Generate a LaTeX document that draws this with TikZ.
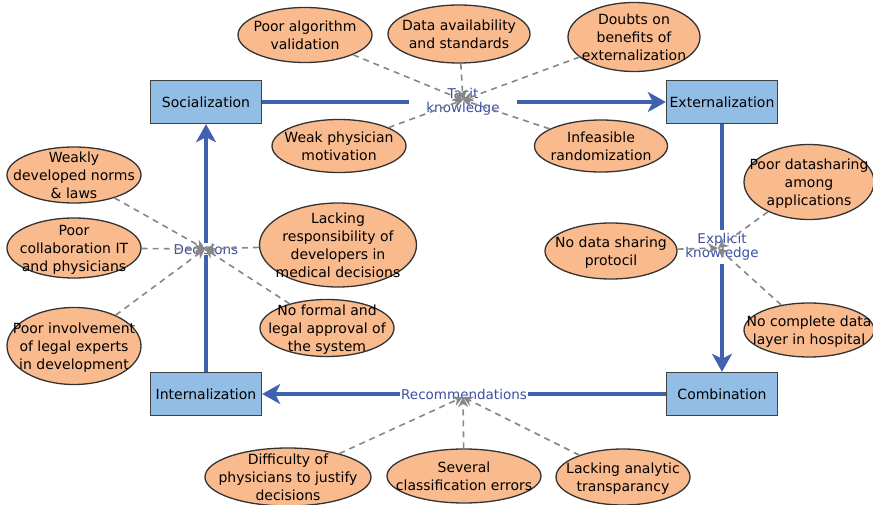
\documentclass[tikz,border=0pt]{standalone}
\usepackage{fontspec}
\setmainfont{DejaVu Sans}
\usetikzlibrary{shapes.geometric,arrows.meta}
\definecolor{peach}{RGB}{249,186,142}
\definecolor{boxblue}{RGB}{146,190,230}
\definecolor{flowblue}{RGB}{64,96,176}
\definecolor{lblblue}{RGB}{60,80,165}
\definecolor{dashgray}{RGB}{135,135,135}
\newcommand{\etext}[1]{\raisebox{-10.5pt}{\smash{\makebox[0pt]{\begin{tabular}{@{}c@{}}#1\end{tabular}}}}}
\tikzset{
  stage/.style={draw=black!75, line width=1.4pt, fill=boxblue, minimum width=111pt, minimum height=43pt, inner sep=0pt, font=\fontsize{14}{16}\selectfont},
  issue/.style={ellipse, draw=black!80, line width=1.3pt, fill=peach, inner sep=0pt, font=\fontsize{14}{18}\selectfont},
  flow/.style={draw=flowblue, line width=3.5pt, -{Stealth[length=18pt,width=20pt,inset=5pt]}},
  flowlbl/.style={fill=white, text=lblblue, align=center, inner sep=1pt, font=\fontsize{13.5}{16.5}\selectfont},
  feed/.style={draw=dashgray, line width=1.6pt, dash pattern=on 6pt off 5pt, -{Stealth[length=10pt,width=10pt]}}
}
\begin{document}
\begin{tikzpicture}[x=1pt,y=-1pt]
\useasboundingbox (0,0) rectangle (873,505);
% stages
\node[stage] (soc) at (206,102) {Socialization};
\node[stage] (ext) at (722,102) {Externalization};
\node[stage] (com) at (722,394) {Combination};
\node[stage] (int) at (206,394) {Internalization};
% hubs
\coordinate (htac) at (463,100);
\coordinate (hexp) at (718,248);
\coordinate (hrec) at (463,397);
\coordinate (hdec) at (205,249);
% main flows
\draw[flow] (soc.east) -- (ext.west);
\draw[flow] (ext.south) -- (com.north);
\draw[flow] (com.west) -- (int.east);
\draw[flow] (int.north) -- (soc.south);
% flow labels
\node[flowlbl, inner xsep=17pt] (ltac) at (463,102) {Tacit\\[-3pt]knowledge};
\node[flowlbl, inner ysep=4pt] (lexp) at (722,247) {Explicit\\[-3pt]knowledge};
\node[flowlbl] (lrec) at (464,394) {Recommendations};
\node[flowlbl] (ldec) at (206,249) {Decisions};
% issues - tacit
\node[issue, minimum width=134pt, minimum height=55pt] (pav) at (305,35) {\etext{Poor algorithm\\validation}};
\node[issue, minimum width=142pt, minimum height=58pt] (das) at (459,34) {\etext{Data availability\\and standards}};
\node[issue, minimum width=132pt, minimum height=69pt] (dob) at (634,37) {\etext{Doubts on\\benefits of\\externalization}};
\node[issue, minimum width=134pt, minimum height=53pt] (wpm) at (339,146) {\etext{Weak physician\\motivation}};
\node[issue, minimum width=133pt, minimum height=52pt] (inf) at (601,146) {\etext{Infeasible\\randomization}};
% issues - decisions
\node[issue, minimum width=134pt, minimum height=56pt] (wdn) at (74,175) {\etext{Weakly\\developed norms\\\& laws}};
\node[issue, minimum width=134pt, minimum height=60pt] (pci) at (74,248) {\etext{Poor\\collaboration IT\\and physicians}};
\node[issue, minimum width=134pt, minimum height=77pt] (pil) at (74,346) {\etext{Poor involvement\\of legal experts\\in development}};
\node[issue, minimum width=157pt, minimum height=84pt] (lrd) at (338,245) {\etext{Lacking\\responsibility of\\developers in\\medical decisions}};
\node[issue, minimum width=134pt, minimum height=57pt] (nfl) at (327,328) {\etext{No formal and\\legal approval of\\the system}};
% issues - explicit
\node[issue, minimum width=130pt, minimum height=75pt] (pds) at (809,182) {\etext{Poor datasharing\\among\\applications}};
\node[issue, minimum width=132pt, minimum height=56pt] (nds) at (611,251) {\etext{No data sharing\\protocil}};
\node[issue, minimum width=130pt, minimum height=54pt] (ncd) at (809,330) {\etext{No complete data\\layer in hospital}};
% issues - recommendations
\node[issue, minimum width=166pt, minimum height=58pt] (dpj) at (288,477) {\etext{Difficulty of\\physicians to justify\\decisions}};
\node[issue, minimum width=154pt, minimum height=54pt] (sce) at (464,476) {\etext{Several\\classification errors}};
\node[issue, minimum width=134pt, minimum height=56pt] (lat) at (623,477) {\etext{Lacking analytic\\transparancy}};
% feeders
\foreach \s in {pav,das,dob,wpm,inf} \draw[feed] (\s) -- (htac);
\foreach \s in {wdn,pci,pil,lrd,nfl} \draw[feed] (\s) -- (hdec);
\foreach \s in {pds,nds,ncd} \draw[feed] (\s) -- (hexp);
\foreach \s in {dpj,sce,lat} \draw[feed] (\s) -- (hrec);
\end{tikzpicture}
\end{document}
